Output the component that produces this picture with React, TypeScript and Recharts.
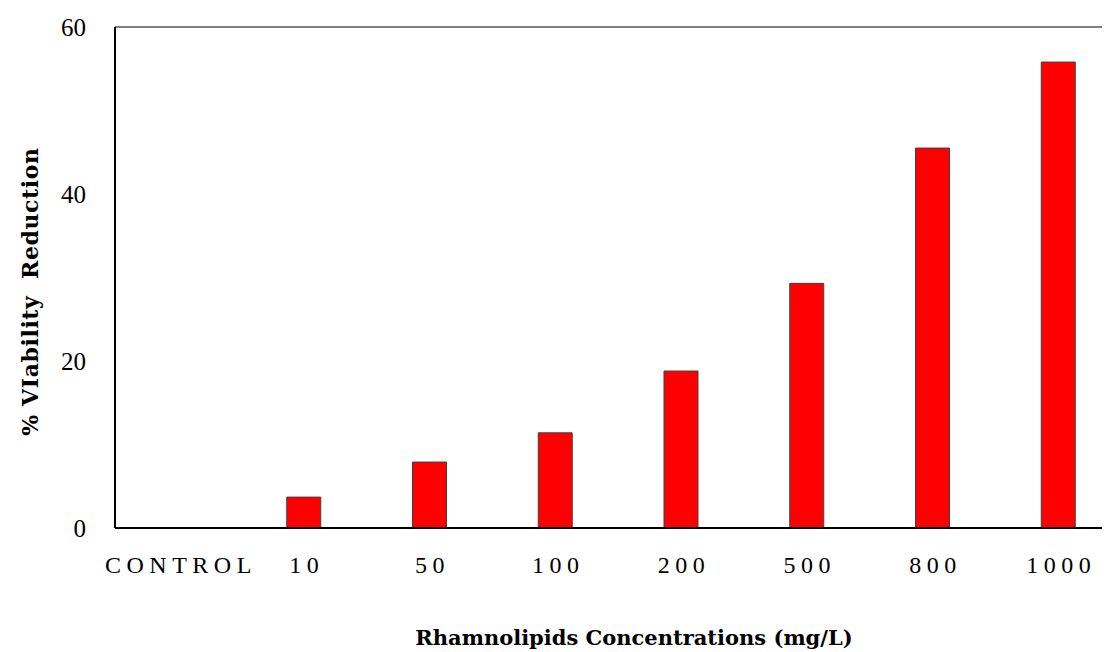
import {
  Bar,
  BarChart,
  Label,
  ReferenceLine,
  XAxis,
  YAxis,
} from 'recharts';

const concentrations: string[] = ['CONTROL', '10', '50', '100', '200', '500', '800', '1000'];
const viabilityReduction: number[] = [0, 3.7, 7.9, 11.4, 18.8, 29.3, 45.5, 55.8];
const yTicks: number[] = [0, 20, 40, 60];

const data = concentrations.map((name, i) => ({ name, value: viabilityReduction[i] }));

const font = '"Liberation Serif", "Times New Roman", serif';
const titleFont = '"DejaVu Serif", serif';

// axis titles, placed against the plot box
const XTitle = (props: any) => {
  const { viewBox } = props;
  const cx = viewBox.x + viewBox.width / 2 + 16;
  return (
    <text x={cx} y={viewBox.y + 117} textAnchor="middle" fontSize={21} fontWeight="bold" fontFamily={titleFont} fill="#000">
      Rhamnolipids Concentrations (mg/L)
    </text>
  );
};

const YTitle = (props: any) => {
  const { viewBox } = props;
  const cy = viewBox.y + viewBox.height / 2 + 14;
  const x = 22;
  return (
    <text
      x={x}
      y={cy}
      transform={`rotate(-90, ${x}, ${cy})`}
      textAnchor="middle"
      dominantBaseline="central"
      fontSize={22}
      letterSpacing={0.6}
      fontWeight="bold"
      fontFamily={titleFont}
      fill="#000"
      style={{ whiteSpace: 'pre' }}
    >
      {'% VIability  Reduction'}
    </text>
  );
};

const App = () => {
  return (
    <div style={{ fontFamily: font }}>
      <BarChart
        width={1115}
        height={644}
        data={data}
        margin={{ top: 19, right: 2, left: 47, bottom: 54 }}
        barCategoryGap={0}
      >
        <ReferenceLine y={60} stroke="#808080" strokeWidth={2} ifOverflow="extendDomain" />
        <XAxis
          dataKey="name"
          height={70}
          tickSize={0}
          tickMargin={28}
          axisLine={{ stroke: '#000', strokeWidth: 2 }}
          tick={{ fill: '#000', fontSize: 24, fontFamily: font, letterSpacing: 5.5, dx: 3 }}
          interval={0}
        >
          <Label content={<XTitle />} />
        </XAxis>
        <YAxis
          width={60}
          domain={[0, 60]}
          ticks={yTicks}
          tickSize={0}
          tickMargin={29}
          axisLine={{ stroke: '#000', strokeWidth: 2 }}
          tick={{ fill: '#000', fontSize: 25, fontFamily: font }}
        >
          <Label content={<YTitle />} />
        </YAxis>
        <Bar
          dataKey="value"
          fill="#ff0000"
          stroke="#404040"
          strokeWidth={1}
          barSize={34}
          isAnimationActive={false}
        />
      </BarChart>
    </div>
  );
};

export default App;
